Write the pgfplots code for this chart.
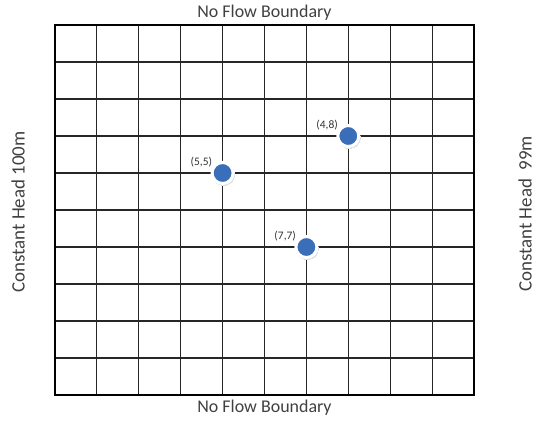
\documentclass[border=0pt]{standalone}
\usepackage{pgfplots}
\pgfplotsset{compat=1.18}
\usepackage{fontspec}
\setmainfont{Carlito}
\definecolor{ptblue}{RGB}{58,110,185}
\begin{document}
\begin{tikzpicture}[x=1bp,y=1bp]
\useasboundingbox (0,0) rectangle (540,422);
\begin{axis}[
  at={(55bp,27bp)}, anchor=south west,
  scale only axis, width=419bp, height=370bp,
  xmin=0, xmax=10, ymin=0, ymax=10,
  xtick={0,...,10}, ytick={0,...,10},
  xticklabels={}, yticklabels={},
  major tick length=0pt,
  grid=major,
  major grid style={black!85, line width=1.1bp},
  axis line style={black, line width=1.8bp},
  clip=false,
]
\addplot[only marks, mark=*, mark size=11bp, draw=black!12, fill=black!12, line width=0bp,
  mark options={xshift=1bp,yshift=-1.5bp}]
  coordinates {(7,7) (4,6) (6,4)};
\addplot[only marks, mark=*, mark size=10.5bp,
  mark options={draw=white, fill=ptblue, line width=3bp},
  nodes near coords, point meta=explicit symbolic,
  every node near coord/.append style={anchor=south east, xshift=-9bp, yshift=4bp,
    font=\fontsize{11.5}{12}\selectfont, text=black!80, inner sep=0pt}]
  table[meta=label] {
x y label
7 7 (4,8)
4 6 (5,5)
6 4 (7,7)
};
\node[font=\fontsize{18}{20}\selectfont, text=black!75] at (rel axis cs:0.5,1) [yshift=12bp] {No Flow Boundary};
\node[font=\fontsize{18}{20}\selectfont, text=black!75] at (rel axis cs:0.5,0) [yshift=-13bp] {No Flow Boundary};
\node[font=\fontsize{19}{21}\selectfont, text=black!75, xshift=-37bp, yshift=-2bp, rotate=90] at (rel axis cs:0,0.5) {Constant Head 100m};
\node[font=\fontsize{19}{21}\selectfont, text=black!75, xshift=51bp, yshift=-4bp, rotate=90] at (rel axis cs:1,0.5) {Constant Head\ \ 99m};
\end{axis}
\end{tikzpicture}
\end{document}
